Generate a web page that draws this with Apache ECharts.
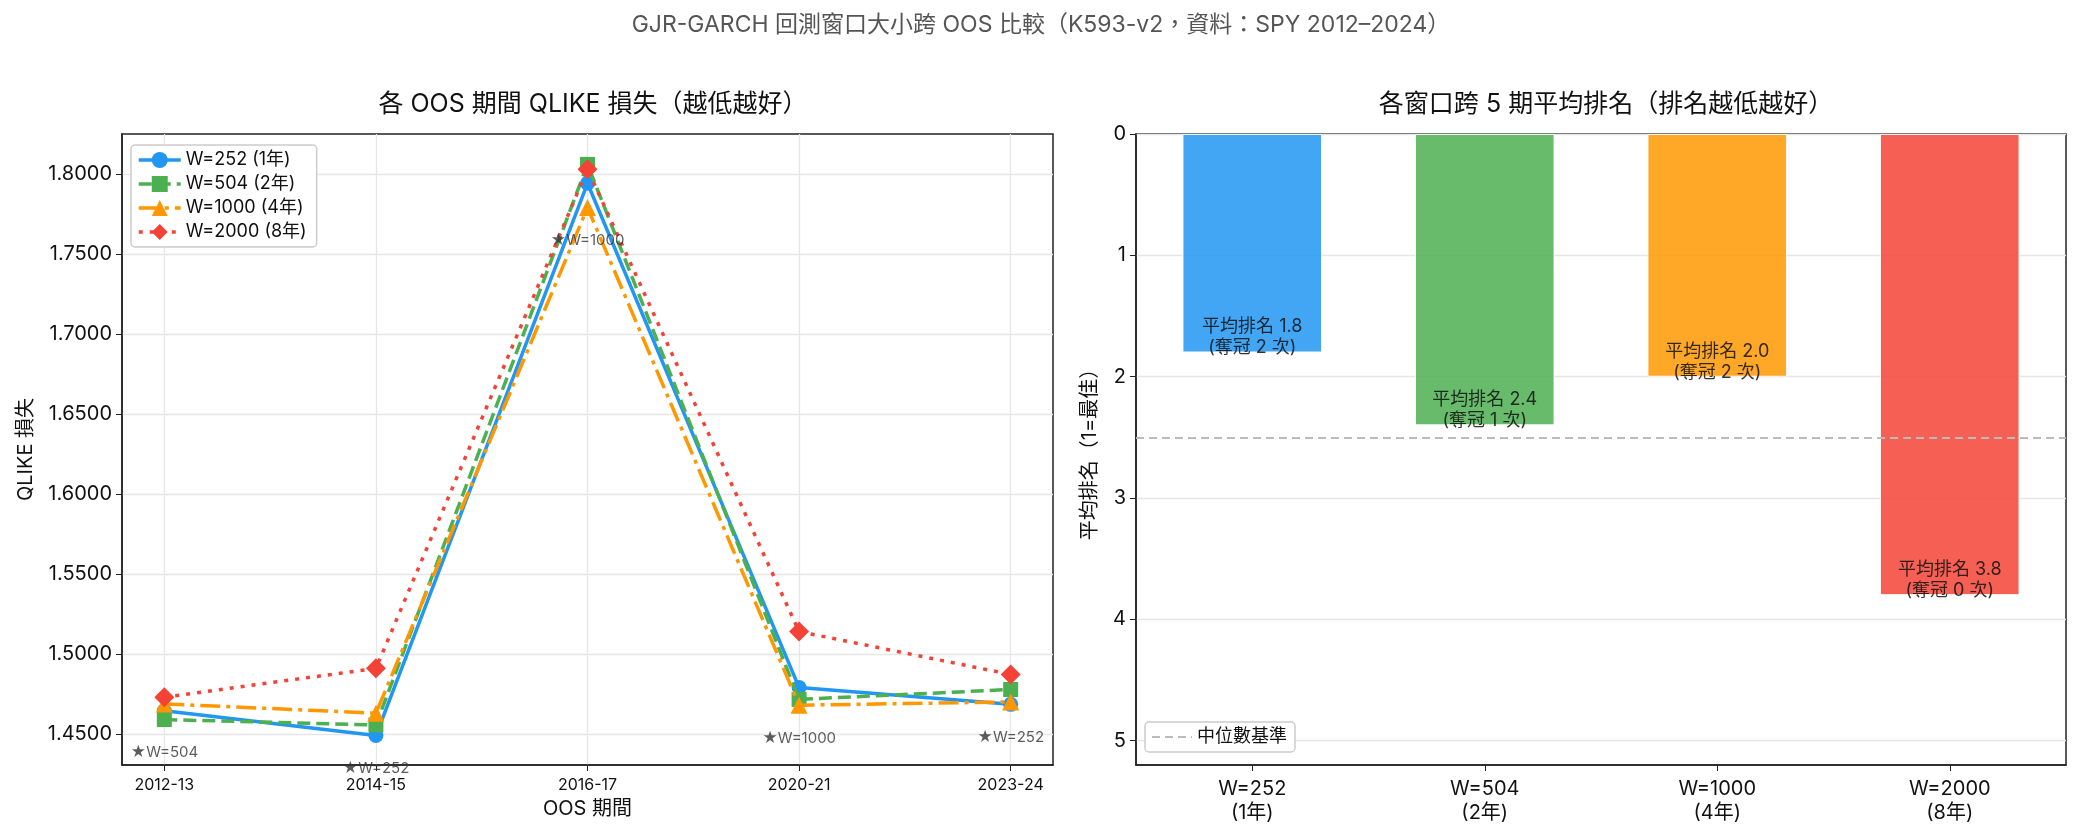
<!DOCTYPE html>
<html>
<head>
<meta charset="utf-8">
<script src="https://cdn.jsdelivr.net/npm/echarts@6/dist/echarts.min.js"></script>
<style>
html, body { margin: 0; padding: 0; background: #fff; }
#main { width: 2082px; height: 837px; }
</style>
</head>
<body>
<div id="main"></div>
<script>
// 資料
const periods = ['2012-13', '2014-15', '2016-17', '2020-21', '2023-24'];
const windowSizes = [252, 504, 1000, 2000];
const windowNames = ['W=252 (1年)', 'W=504 (2年)', 'W=1000 (4年)', 'W=2000 (8年)'];
const qlike252 = [1.4645, 1.4490, 1.7942, 1.4790, 1.4685];
const qlike504 = [1.4590, 1.4556, 1.8060, 1.4716, 1.4778];
const qlike1000 = [1.4688, 1.4630, 1.7790, 1.4680, 1.4700];
const qlike2000 = [1.4730, 1.4910, 1.8030, 1.5140, 1.4872];
const qlikeTicks = [1.45, 1.50, 1.55, 1.60, 1.65, 1.70, 1.75, 1.80];
const avgRank = [1.8, 2.4, 2.0, 3.8];
const wins = [2, 1, 2, 0];
const rankTicks = [0, 1, 2, 3, 4, 5];
const medianRank = 2.5;

const qlike = [qlike252, qlike504, qlike1000, qlike2000];
const colors = ['#2196F3', '#4CAF50', '#FF9800', '#F44336'];
const symbols = ['circle', 'rect', 'triangle', 'diamond'];
const symbolSizes = [15, 15, 17, 20];
const dashes = ['solid', [13, 6], [20, 6, 4, 6], [4, 7]];
const FONT = 'Inter, "Noto Sans CJK TC", sans-serif';

var myChart = echarts.init(document.getElementById('main'));

const lineSeries = windowNames.map((name, k) => ({
    name: name,
    type: 'line',
    xAxisIndex: 0,
    yAxisIndex: 0,
    data: qlike[k].map((v, i) => [i, v]),
    symbol: symbols[k],
    symbolSize: symbolSizes[k],
    lineStyle: { color: colors[k], width: 3.5, type: dashes[k] },
    itemStyle: { color: colors[k] },
    z: 3 + k
}));

// 每期最佳窗口
const bestPoints = periods.map((p, i) => {
    let kb = 0;
    for (let k = 1; k < qlike.length; k++) {
        if (qlike[k][i] < qlike[kb][i]) kb = k;
    }
    return { value: [i, qlike[kb][i]], name: 'W=' + windowSizes[kb] };
});

let option = {
    backgroundColor: '#fff',
    textStyle: { fontFamily: FONT },
    animation: false,
    title: [
        { text: 'GJR-GARCH 回測窗口大小跨 OOS 比較（K593-v2，資料：SPY 2012–2024）', left: 'center', top: 9,
          textStyle: { fontSize: 23, fontWeight: 'normal', color: '#555', fontFamily: FONT } },
        { text: '各 OOS 期間 QLIKE 損失（越低越好）', left: 588, top: 87, textAlign: 'center',
          textStyle: { fontSize: 25, fontWeight: 'normal', color: '#111', fontFamily: FONT } },
        { text: '各窗口跨 5 期平均排名（排名越低越好）', left: 1601, top: 87, textAlign: 'center',
          textStyle: { fontSize: 25, fontWeight: 'normal', color: '#111', fontFamily: FONT } }
    ],
    legend: [
        {
            data: windowNames,
            orient: 'vertical',
            left: 131, top: 145,
            itemWidth: 42, itemHeight: 20, itemGap: 6,
            lineStyle: { width: 3.5 },
            backgroundColor: '#fff',
            borderColor: '#ccc', borderWidth: 1.5, borderRadius: 4,
            padding: [6, 10, 6, 6],
            textStyle: { fontSize: 18, color: '#111', fontFamily: FONT }
        },
        {
            data: [{ name: '中位數基準', itemStyle: { opacity: 0 } }],
            left: 1145, top: 722,
            itemWidth: 40, itemHeight: 14,
            lineStyle: { width: 2 },
            backgroundColor: '#fff',
            borderColor: '#ccc', borderWidth: 1.5, borderRadius: 4,
            padding: [6, 8, 6, 6],
            textStyle: { fontSize: 18, color: '#111', fontFamily: FONT }
        }
    ],
    grid: [
        { left: 122, top: 134, width: 931, height: 631, show: true, borderColor: '#222', borderWidth: 1.5 },
        { left: 1136, top: 134, width: 930, height: 631, show: true, borderColor: '#222', borderWidth: 1.5 }
    ],
    xAxis: [
        {
            type: 'value', gridIndex: 0,
            min: -0.2, max: 4.2,
            name: 'OOS 期間', nameLocation: 'middle', nameGap: 34,
            nameTextStyle: { fontSize: 20, color: '#111', fontFamily: FONT },
            axisLine: { show: true, onZero: false, lineStyle: { color: '#222', width: 1.5 } },
            axisTick: { show: true, length: 6, customValues: periods.map((p, i) => i), lineStyle: { color: '#222' } },
            axisLabel: { customValues: periods.map((p, i) => i), formatter: v => periods[v], fontSize: 16, color: '#111', margin: 12 },
            splitLine: { show: true, lineStyle: { color: '#e6e6e6', width: 1.3 } }
        },
        {
            type: 'category', gridIndex: 1,
            data: windowNames.map(n => n.replace(' ', '\n')),
            axisLine: { show: true, onZero: false, lineStyle: { color: '#222', width: 1.5 } },
            axisTick: { show: true, alignWithLabel: true, length: 6, lineStyle: { color: '#222' } },
            axisLabel: { fontSize: 20, lineHeight: 24, color: '#111', margin: 12 },
            splitLine: { show: false }
        }
    ],
    yAxis: [
        {
            type: 'value', gridIndex: 0,
            min: 1.4306, max: 1.825,
            name: 'QLIKE 損失', nameLocation: 'middle', nameGap: 86,
            nameTextStyle: { fontSize: 20, color: '#111', fontFamily: FONT },
            axisLine: { show: true, onZero: false, lineStyle: { color: '#222', width: 1.5 } },
            axisTick: { show: true, length: 6, customValues: qlikeTicks, lineStyle: { color: '#222' } },
            axisLabel: { customValues: qlikeTicks, formatter: v => v.toFixed(4), fontSize: 20, color: '#111', margin: 10 },
            splitLine: { show: true, lineStyle: { color: '#e6e6e6', width: 1.3 } }
        },
        {
            type: 'value', gridIndex: 1,
            min: 0, max: 5.2, inverse: true,
            name: '平均排名（1=最佳）', nameLocation: 'middle', nameGap: 36,
            nameTextStyle: { fontSize: 20, color: '#111', fontFamily: FONT },
            axisLine: { show: true, onZero: false, lineStyle: { color: '#222', width: 1.5 } },
            axisTick: { show: true, length: 6, customValues: rankTicks, lineStyle: { color: '#222' } },
            axisLabel: { customValues: rankTicks, fontSize: 20, color: '#111', margin: 10 },
            splitLine: { show: true, lineStyle: { color: '#e6e6e6', width: 1.3 } }
        }
    ],
    series: lineSeries.concat([
        {
            type: 'scatter',
            xAxisIndex: 0, yAxisIndex: 0,
            data: bestPoints,
            symbolSize: 1,
            itemStyle: { color: 'rgba(0,0,0,0)' },
            silent: true,
            z: 10,
            label: {
                show: true,
                position: 'inside',
                offset: [0, 33],
                formatter: p => '★' + p.name,
                fontSize: 15,
                color: '#333'
            }
        },
        {
            type: 'bar',
            xAxisIndex: 1, yAxisIndex: 1,
            barWidth: '60%',
            data: avgRank.map((v, k) => ({
                value: v,
                itemStyle: { color: colors[k], opacity: 0.85, borderColor: '#fff', borderWidth: 1 }
            })),
            label: {
                show: true,
                position: 'insideBottom',
                distance: -6,
                formatter: p => '平均排名 ' + p.value.toFixed(1) + '\n(奪冠 ' + wins[p.dataIndex] + ' 次)',
                fontSize: 18,
                lineHeight: 21,
                color: '#111'
            }
        },
        {
            name: '中位數基準',
            type: 'line',
            xAxisIndex: 1, yAxisIndex: 1,
            data: [],
            symbol: 'none',
            lineStyle: { color: '#bbb', width: 2, type: [8, 5] },
            itemStyle: { color: '#bbb' },
            markLine: {
                silent: true,
                symbol: 'none',
                label: { show: false },
                lineStyle: { color: '#bbb', width: 2, type: [8, 5] },
                data: [{ yAxis: medianRank }]
            }
        }
    ])
};

myChart.setOption(option);
window.addEventListener('resize', function() {
    myChart.resize();
});
</script>
</body>
</html>
